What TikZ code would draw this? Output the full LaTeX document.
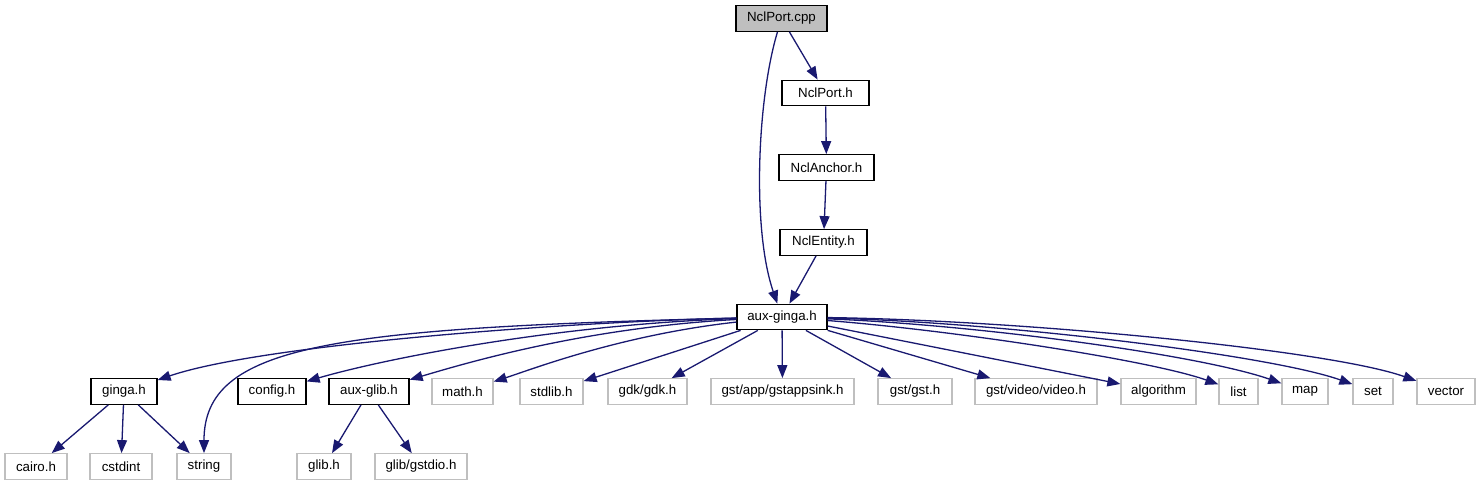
\documentclass[tikz,border=0pt]{standalone}
\usepackage{fontspec}
\setmainfont{Liberation Sans}
\usetikzlibrary{arrows.meta}
\definecolor{edgeblue}{RGB}{25,25,112}
\definecolor{sysgray}{RGB}{191,191,191}

\begin{document}
\begin{tikzpicture}[x=1pt, y=-1pt,
  file/.style={rectangle, draw=black, fill=white, line width=1.3pt, inner sep=0pt,
    minimum height=25.5pt, font=\fontsize{13.3}{15}\selectfont},
  sys/.style={file, draw=sysgray},
  edge/.style={draw=edgeblue, line width=1.3pt, -{Triangle[length=13pt,width=10pt]}}]

\useasboundingbox (0,0) rectangle (1481,485);

% First, define nodes
\draw (781.5,18.5) node[file, fill=sysgray, minimum width=91pt] (root) {NclPort.cpp};
\draw (825.5,93)   node[file, minimum width=87pt] (porth) {NclPort.h};
\draw (826.5,167.5) node[file, minimum width=95pt] (anchor) {NclAnchor.h};
\draw (823.5,242.5) node[file, minimum width=87pt] (entity) {NclEntity.h};
\draw (782,317)    node[file, minimum width=90pt] (aux) {aux-ginga.h};

% second row
\draw (124,391.5)  node[file, minimum width=66pt] (ginga) {ginga.h};
\draw (272,391.5)  node[file, minimum width=68pt] (config) {config.h};
\draw (369,391.5)  node[file, minimum width=80pt] (auxglib) {aux-glib.h};
\draw (462.5,391.5) node[sys, minimum width=61pt] (math) {math.h};
\draw (551.5,391.5) node[sys, minimum width=63pt] (stdlib) {stdlib.h};
\draw (647.5,391.5) node[sys, minimum width=79pt] (gdk) {gdk/gdk.h};
\draw (782.5,391.5) node[sys, minimum width=143pt] (appsink) {gst/app/gstappsink.h};
\draw (915,391.5)  node[sys, minimum width=74pt] (gst) {gst/gst.h};
\draw (1036,391.5) node[sys, minimum width=122pt] (video) {gst/video/video.h};
\draw (1158.5,391.5) node[sys, minimum width=75pt] (algorithm) {algorithm};
\draw (1238.5,391.5) node[sys, minimum width=39pt] (list) {list};
\draw (1305,391.5) node[sys, minimum width=46pt] (map) {map};
\draw (1373,391.5) node[sys, minimum width=40pt] (set) {set};
\draw (1446,391.5) node[sys, minimum width=58pt] (vector) {vector};

% third row
\draw (36,466.5)   node[sys, minimum width=62pt] (cairo) {cairo.h};
\draw (121,466.5)  node[sys, minimum width=62pt] (cstdint) {cstdint};
\draw (204,466.5)  node[sys, minimum width=54pt] (string) {string};
\draw (324,466.5)  node[sys, minimum width=54pt] (glib) {glib.h};
\draw (421,466.5)  node[sys, minimum width=92pt] (gstdio) {glib/gstdio.h};

% Now the include edges, straight ones first
\draw[edge] (root) -- (porth);
\draw[edge] (porth) -- (anchor);
\draw[edge] (anchor) -- (entity);
\draw[edge] (entity) -- (aux);
\foreach \t in {stdlib,gdk,appsink,gst,video,algorithm}
  \draw[edge] (aux) -- (\t);
\foreach \t in {cairo,cstdint,string}
  \draw[edge] (ginga) -- (\t);
\foreach \t in {glib,gstdio}
  \draw[edge] (auxglib) -- (\t);

% Curved edges, with explicit control points
\draw[edge] (root) .. controls (757,100) and (752,230) .. (aux);
\draw[edge] (aux) .. controls (560,322) and (260,345) .. (ginga);
\draw[edge] (aux) .. controls (330,328) and (204,345) .. (string);
\draw[edge] (aux) .. controls (550,325) and (380,360) .. (config);
\draw[edge] (aux) .. controls (580,328) and (460,365) .. (auxglib);
\draw[edge] (aux) .. controls (620,335) and (530,370) .. (math);
\draw[edge] (aux) .. controls (950,330) and (1150,360) .. (list);
\draw[edge] (aux) .. controls (980,325) and (1200,355) .. (map);
\draw[edge] (aux) .. controls (1000,322) and (1270,355) .. (set);
\draw[edge] (aux) .. controls (1020,320) and (1330,350) .. (vector);

\end{tikzpicture}
\end{document}
